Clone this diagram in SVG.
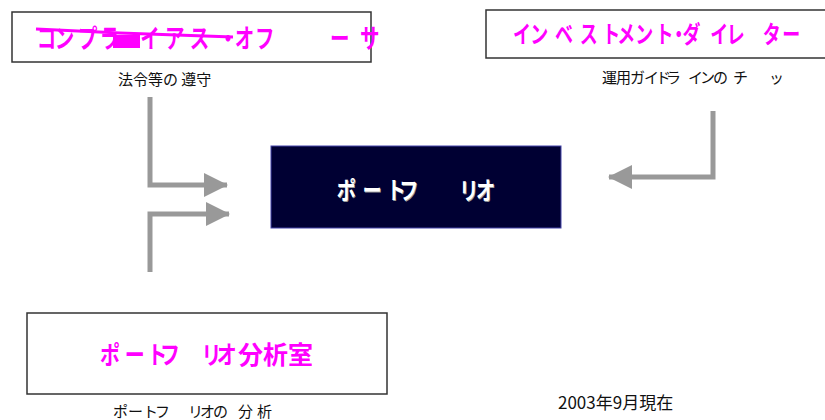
<svg xmlns="http://www.w3.org/2000/svg" width="825" height="420" viewBox="0 0 825 420">
<style>
.box{fill:#ffffff;stroke:#333333;stroke-width:1.5}
.mag{fill:#ff00ff;font-family:"Noto Sans CJK JP",sans-serif;font-weight:bold}
.lbl{fill:#111111;font-family:"Noto Sans CJK JP",sans-serif;font-size:15px}
.conn{fill:none;stroke:#999999;stroke-width:5;stroke-linejoin:miter}
.ctr{font-family:"Noto Sans CJK JP",sans-serif;font-weight:bold;font-size:24px}
</style>
<defs>
<marker id="ah" viewBox="0 0 24 24" refX="23" refY="12" markerWidth="24" markerHeight="24" markerUnits="userSpaceOnUse" orient="auto">
<path d="M0,0 L24,12 L0,24 z" fill="#999999"/>
</marker>
</defs>
<rect width="825" height="420" fill="#ffffff"/>
<g id="connectors">
<path class="conn" d="M150,97 V185 H227" marker-end="url(#ah)"/>
<path class="conn" d="M150,272 V214 H229" marker-end="url(#ah)"/>
<path class="conn" d="M713,111 V177 H609" marker-end="url(#ah)"/>
</g>
<g id="compliance">
<rect class="box" x="12" y="12" width="359" height="50"/>
<rect x="113" y="35" width="27" height="13" fill="#ff00ff"/>
<path d="M36,29 L120,33 L233,37" fill="none" stroke="#ff00ff" stroke-width="3"/>
<text class="mag" font-size="26" transform="scale(0.75,1)" x="49,73,104,133,187,220,253,291,313,340,440,480" y="48">コンプライアス・オフーサ</text>
<text class="lbl" x="118" y="85">法令等の 遵守</text>
</g>
<g id="investment">
<rect class="box" x="486" y="10" width="345" height="48"/>
<text class="mag" font-size="24" transform="scale(0.75,1)" x="684,707,740,773,803,823,847,874,893,910,947,969,1017,1043" y="43">インベストメント・ダイレター</text>
<text class="lbl" x="602,616,630,644,656,666,688,700,713,733,769" y="83">運用ガイドラインのチッ</text>
</g>
<g id="portfolio">
<rect x="271" y="146" width="290" height="82" fill="#000033" stroke="#4444aa" stroke-width="1"/>
<text class="ctr" fill="#999999" transform="scale(0.8,1)" x="422,454,484,500,575,596" y="200.5">ポートフリオ</text>
<text class="ctr" fill="#ffffff" transform="scale(0.8,1)" x="421,453,483,499,574,595" y="199">ポートフリオ</text>
</g>
<g id="analysis">
<rect class="box" x="27" y="313" width="360" height="81"/>
<text class="mag" font-size="25" transform="scale(0.8,1)" x="125,156,184,200,252,271" y="364">ポートフリオ</text>
<text class="mag" font-size="25" x="238,263,288" y="364">分析室</text>
<text class="lbl" x="113,128,143,155,188,200,213,238,257" y="417">ポートフリオの分析</text>
</g>
<text x="558" y="409" font-family="'Noto Sans CJK JP',sans-serif" font-size="17" fill="#111111">2003年9月現在</text>
</svg>
